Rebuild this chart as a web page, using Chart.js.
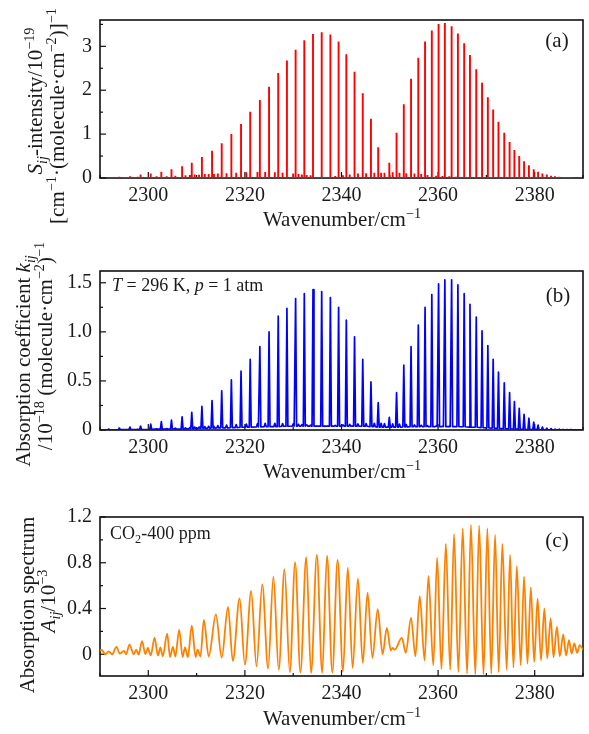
<!DOCTYPE html>
<html lang="en">
<head>
<meta charset="UTF-8" />
<title>CO2 band</title>
<script src="https://cdn.jsdelivr.net/npm/chart.js@4"></script>
<style>
  body { margin: 0; background: #fff; }
  #wrap { position: relative; width: 589px; height: 734px; font-family: "Liberation Serif", serif; color: #1a1a1a; }
  canvas { position: absolute; left: 0; }
  .t { position: absolute; white-space: nowrap; transform: translate(-50%, -50%); font-size: 21px; }
  .l { position: absolute; white-space: nowrap; transform: translateY(-50%); font-size: 18px; }
  .rot { position: absolute; white-space: nowrap; transform: translate(-50%, -50%) rotate(-90deg); font-size: 21px; }
  sup, sub { font-size: 68%; line-height: 0; }
</style>
</head>
<body>
<div id="wrap">
  <canvas id="ca" width="589" height="240" style="top:0"></canvas>
  <canvas id="cb" width="589" height="250" style="top:240px"></canvas>
  <canvas id="cc" width="589" height="244" style="top:490px"></canvas>

  <div class="rot" style="left:35px;top:101px"><i>S<sub>ij</sub></i>-intensity/10<sup>−19</sup></div>
  <div class="rot" style="left:57px;top:116px">[cm<sup>−1</sup>·(molecule·cm<sup>−2</sup>)]<sup>−1</sup></div>
  <div class="t" style="left:342px;top:219px">Wavenumber/cm<sup>−1</sup></div>
  <div class="t" style="left:557px;top:40px">(a)</div>

  <div class="rot" style="left:23px;top:361px">Absorption coefficient <i>k<sub>ij</sub></i></div>
  <div class="rot" style="left:45px;top:346px">/10<sup>−18</sup> (molecule·cm<sup>−2</sup>)<sup>−1</sup></div>
  <div class="t" style="left:342px;top:471px">Wavenumber/cm<sup>−1</sup></div>
  <div class="t" style="left:558px;top:295px">(b)</div>
  <div class="l" style="left:112px;top:285px"><i>T</i> = 296 K, <i>p</i> = 1 atm</div>

  <div class="rot" style="left:27px;top:605px">Absorption spectrum</div>
  <div class="rot" style="left:48px;top:601px"><i>A<sub>ij</sub></i>/10<sup>−3</sup></div>
  <div class="t" style="left:342px;top:718px">Wavenumber/cm<sup>−1</sup></div>
  <div class="t" style="left:557px;top:540px">(c)</div>
  <div class="l" style="left:110px;top:533px">CO<sub>2</sub>-400 ppm</div>
</div>

<script>
// main lines of the band, P branch then R branch (cm-1)
const linePos = [
  2291.8, 2294.0, 2296.2, 2298.4, 2300.5, 2302.7, 2304.8, 2307.0, 2309.0, 2311.1,
  2313.2, 2315.2, 2317.2, 2319.2, 2321.1, 2323.1, 2325.0, 2326.9, 2328.7, 2330.5,
  2332.3, 2334.1, 2335.9, 2337.7, 2339.4, 2341.0, 2342.7, 2344.4, 2346.1, 2347.6,
  2349.9, 2351.4, 2352.9, 2354.4, 2355.9, 2357.3, 2358.7, 2360.1, 2361.4, 2362.8,
  2364.1, 2365.4, 2366.6, 2367.9, 2369.1, 2370.3, 2371.4, 2372.5, 2373.7, 2374.8,
  2375.8, 2376.8, 2377.8, 2378.8, 2379.8, 2380.7, 2381.6, 2382.5, 2383.4, 2384.2,
  2385.1, 2385.9, 2386.7, 2387.5
];
// (a) line intensity, 10^-19
const intensityA = [
  0.02, 0.03, 0.04, 0.08, 0.10, 0.14, 0.20, 0.27, 0.35, 0.48,
  0.62, 0.79, 1.00, 1.23, 1.51, 1.78, 2.08, 2.39, 2.68, 2.92,
  3.14, 3.28, 3.32, 3.27, 3.11, 2.82, 2.42, 1.93, 1.35, 0.70,
  0.35, 1.03, 1.68, 2.26, 2.74, 3.11, 3.36, 3.51, 3.53, 3.46,
  3.29, 3.07, 2.80, 2.48, 2.17, 1.84, 1.56, 1.28, 1.03, 0.82,
  0.64, 0.50, 0.38, 0.29, 0.20, 0.14, 0.10, 0.08, 0.05, 0.04,
  0.03, 0.02, 0.015, 0.01
];
// (b) peak absorption coefficient, 10^-18
const peakB = [
  0.01, 0.02, 0.03, 0.04, 0.06, 0.085, 0.10, 0.135, 0.18, 0.24,
  0.30, 0.40, 0.51, 0.60, 0.72, 0.85, 1.00, 1.16, 1.24, 1.34,
  1.39, 1.43, 1.41, 1.35, 1.25, 1.12, 0.95, 0.72, 0.49, 0.28,
  0.13, 0.38, 0.66, 0.85, 1.07, 1.25, 1.38, 1.49, 1.53, 1.53,
  1.48, 1.39, 1.28, 1.15, 1.01, 0.86, 0.72, 0.59, 0.48, 0.38,
  0.29, 0.22, 0.16, 0.12, 0.08, 0.05, 0.03, 0.02, 0.015, 0.01,
  0.008, 0.005, 0.004, 0.003
];
// (b) level between the peaks
const baseB = [
  0.002, 0.003, 0.004, 0.005, 0.006, 0.008, 0.010, 0.012, 0.015, 0.018,
  0.020, 0.022, 0.025, 0.028, 0.030, 0.032, 0.035, 0.035, 0.038, 0.040,
  0.040, 0.040, 0.040, 0.040, 0.040, 0.040, 0.040, 0.038, 0.035, 0.030,
  0.030, 0.030, 0.032, 0.035, 0.035, 0.035, 0.035, 0.035, 0.035, 0.035,
  0.035, 0.033, 0.030, 0.028, 0.025, 0.022, 0.020, 0.017, 0.015, 0.012,
  0.010, 0.008, 0.006, 0.005, 0.004, 0.003, 0.002, 0.002, 0.001, 0.001,
  0.001, 0.001, 0.001, 0.001
];
// weak (hot band) lines
const weakPos = [
  2297.8, 2301.7, 2303.8, 2305.6, 2307.7, 2308.6, 2309.6, 2310.5, 2311.7, 2312.5,
  2313.6, 2314.4, 2316.2, 2318.2, 2320.3, 2322.6, 2324.2, 2326.2, 2327.8, 2330.0,
  2331.1, 2331.8, 2332.8, 2333.6, 2338.7, 2340.3, 2341.7, 2343.4, 2345.1, 2346.8,
  2348.2, 2348.9, 2350.6, 2352.0, 2353.4, 2355.1, 2356.5, 2357.8, 2359.6, 2360.9,
  2362.3, 2363.7
];
const weakA = [
  0.03, 0.04, 0.04, 0.05, 0.06, 0.07, 0.08, 0.075, 0.09, 0.09,
  0.09, 0.10, 0.11, 0.12, 0.13, 0.135, 0.135, 0.13, 0.12, 0.105,
  0.09, 0.08, 0.07, 0.06, 0.045, 0.06, 0.08, 0.10, 0.11, 0.12,
  0.12, 0.12, 0.13, 0.12, 0.11, 0.10, 0.09, 0.07, 0.05, 0.045,
  0.04, 0.03
];
const weakB = [
  0.008, 0.012, 0.014, 0.018, 0.022, 0.025, 0.030, 0.030, 0.035, 0.038,
  0.040, 0.045, 0.050, 0.055, 0.060, 0.065, 0.068, 0.068, 0.066, 0.062,
  0.058, 0.055, 0.052, 0.050, 0.048, 0.052, 0.058, 0.062, 0.065, 0.068,
  0.068, 0.066, 0.062, 0.060, 0.056, 0.052, 0.048, 0.044, 0.040, 0.038,
  0.036, 0.034
];
// (c) absorption spectrum, 10^-3 : [wavenumber, value] at the turning points
const specC = [
  [2290.0, 0.03], [2290.3, 0.04], [2291.1, 0.0], [2291.8, 0.025], [2292.5, 0.0],
  [2293.4, 0.065], [2294.1, 0.005], [2295.0, 0.03], [2295.4, 0.0], [2296.1, 0.085],
  [2297.0, 0.0], [2297.5, 0.04], [2298.0, -0.003], [2298.7, 0.115], [2299.4, 0.0],
  [2299.9, 0.055], [2300.5, -0.01], [2301.3, 0.145], [2302.0, -0.012], [2302.5, 0.06],
  [2303.0, -0.018], [2303.9, 0.18], [2304.5, -0.024], [2305.1, 0.065], [2305.6, -0.02],
  [2306.4, 0.215], [2307.1, -0.024], [2307.6, 0.06], [2308.2, -0.024], [2309.0, 0.25],
  [2309.8, -0.025], [2310.2, 0.04], [2310.8, -0.02], [2311.5, 0.30], [2312.5, -0.02],
  [2314.0, 0.348], [2315.2, -0.03], [2316.5, 0.415], [2317.5, -0.058], [2318.9, 0.488],
  [2320.0, -0.09], [2321.3, 0.553], [2322.4, -0.105], [2323.6, 0.614], [2324.8, -0.126],
  [2325.9, 0.678], [2327.0, -0.134], [2328.2, 0.743], [2329.3, -0.155], [2330.4, 0.804],
  [2331.5, -0.16], [2332.7, 0.848], [2333.7, -0.164], [2334.9, 0.868], [2336.0, -0.164],
  [2337.0, 0.862], [2338.1, -0.16], [2339.2, 0.825], [2340.3, -0.15], [2341.3, 0.757],
  [2342.3, -0.12], [2343.4, 0.664], [2344.4, -0.076], [2345.4, 0.538], [2346.4, -0.032],
  [2347.5, 0.395], [2348.5, 0.0], [2349.4, 0.231], [2350.2, 0.035], [2350.6, 0.055],
  [2351.0, 0.04], [2352.5, 0.143], [2353.3, 0.012], [2354.4, 0.319], [2355.3, -0.018],
  [2356.2, 0.509], [2357.2, -0.053], [2358.0, 0.684], [2359.0, -0.096], [2359.8, 0.845],
  [2360.7, -0.13], [2361.6, 0.965], [2362.5, -0.134], [2363.3, 1.05], [2364.2, -0.155],
  [2365.1, 1.10], [2366.0, -0.17], [2366.8, 1.13], [2367.7, -0.175], [2368.5, 1.125],
  [2369.4, -0.178], [2370.2, 1.10], [2371.0, -0.17], [2371.8, 1.044], [2372.55, -0.155],
  [2373.3, 0.965], [2374.2, -0.134], [2374.9, 0.868], [2375.6, -0.117], [2376.3, 0.772],
  [2377.1, -0.096], [2377.8, 0.678], [2378.5, -0.082], [2379.2, 0.585], [2379.9, -0.067],
  [2380.6, 0.488], [2381.3, -0.053], [2382.0, 0.40], [2382.6, -0.038], [2383.3, 0.313],
  [2383.9, -0.026], [2384.6, 0.24], [2385.2, -0.018], [2385.9, 0.173], [2386.5, -0.01],
  [2387.1, 0.123], [2387.65, 0.006], [2388.2, 0.094], [2388.8, 0.012], [2389.3, 0.08],
  [2390.0, 0.04]
];

const FONT = "'Liberation Serif', serif";
const onStep = (v, s) => Math.abs(v / s - Math.round(v / s)) < 1e-6;

// box round the plot area + inward ticks
const framePlugin = {
  id: 'frame',
  beforeDatasetsDraw(chart, args, o) {
    const { ctx, chartArea: a, scales: { x, y } } = chart;
    ctx.save();
    ctx.strokeStyle = '#111';
    ctx.lineWidth = 1.2;
    x.ticks.forEach(t => {
      if (!onStep(t.value, o.xMinor)) return;
      const px = x.getPixelForValue(t.value);
      const len = onStep(t.value, o.xMajor) ? 6 : 3;
      ctx.beginPath(); ctx.moveTo(px, a.bottom); ctx.lineTo(px, a.bottom - len); ctx.stroke();
    });
    y.ticks.forEach(t => {
      if (!onStep(t.value, o.yMinor)) return;
      const py = y.getPixelForValue(t.value);
      const len = onStep(t.value, o.yMajor) ? 6 : 3;
      ctx.beginPath(); ctx.moveTo(a.left, py); ctx.lineTo(a.left + len, py); ctx.stroke();
    });
    ctx.lineWidth = 1.6;
    ctx.strokeRect(a.left, a.top, a.right - a.left, a.bottom - a.top);
    ctx.restore();
  }
};

function makePanel(id, datasets, opt) {
  return new Chart(document.getElementById(id), {
    type: 'line',
    data: { datasets },
    plugins: [framePlugin],
    options: {
      responsive: false,
      animation: false,
      layout: { padding: { left: 0, right: 5.3, top: opt.top, bottom: 0 } },
      plugins: {
        legend: { display: false },
        tooltip: { enabled: false },
        frame: { xMinor: 10, xMajor: 20, yMinor: opt.yMinor, yMajor: opt.yMajor }
      },
      elements: { point: { radius: 0 } },
      scales: {
        x: {
          type: 'linear', min: 2290, max: 2390,
          grid: { display: false, drawTicks: false }, border: { display: false },
          ticks: {
            stepSize: 10, autoSkip: false, maxRotation: 0, padding: 6, includeBounds: false,
            color: '#1a1a1a', font: { family: FONT, size: 20 },
            callback: v => onStep(v, 20) ? String(v) : ''
          },
          afterFit: s => { s.height = opt.xh; }
        },
        y: {
          type: 'linear', min: opt.min, max: opt.max,
          grid: { display: false, drawTicks: false }, border: { display: false },
          ticks: {
            stepSize: opt.yMinor, autoSkip: false, padding: 8, includeBounds: false,
            color: '#1a1a1a', font: { family: FONT, size: 20 },
            callback: v => onStep(v, opt.yMajor) ? opt.fmt(v) : ''
          },
          afterFit: s => { s.width = 100; }
        }
      }
    }
  });
}

// (a) sticks
const sticks = [];
linePos.forEach((x, i) => sticks.push({ x, h: intensityA[i] }));
weakPos.forEach((x, i) => sticks.push({ x, h: weakA[i] }));
sticks.sort((p, q) => p.x - q.x);
const stickPts = [];
sticks.forEach(s => stickPts.push({ x: s.x, y: 0 }, { x: s.x, y: s.h }, { x: s.x, y: 0 }));

makePanel('ca', [{
  data: stickPts, borderColor: '#ff0000', borderWidth: 1.9,
  borderJoinStyle: 'bevel', tension: 0
}], {
  top: 18, xh: 62, min: 0, max: 3.6, yMinor: 0.5, yMajor: 1,
  fmt: v => String(Math.round(v))
});

// (b) narrow peaks over a low floor
const peaks = [];
linePos.forEach((x, i) => peaks.push({ x, h: peakB[i], b: baseB[i] }));
weakPos.forEach((x, i) => {
  let k = 0;
  linePos.forEach((p, j) => { if (Math.abs(p - x) < Math.abs(linePos[k] - x)) k = j; });
  if (Math.abs(linePos[k] - x) < 0.35) return;
  peaks.push({ x, h: weakB[i], b: baseB[k] });
});
peaks.sort((p, q) => p.x - q.x);
const kPts = [{ x: 2290, y: 0.002 }];
peaks.forEach(p => kPts.push({ x: p.x - 0.2, y: p.b }, { x: p.x, y: p.h }, { x: p.x + 0.2, y: p.b }));
kPts.push({ x: 2390, y: 0.001 });

makePanel('cb', [{
  data: kPts, borderColor: '#0000ff', borderWidth: 1.7,
  borderJoinStyle: 'round', tension: 0
}], {
  top: 31, xh: 60, min: 0, max: 1.62, yMinor: 0.25, yMajor: 0.5,
  fmt: v => v === 0 ? '0' : v.toFixed(1)
});

// (c)
makePanel('cc', [{
  data: specC.map(([x, y]) => ({ x, y })), borderColor: '#ff8000', borderWidth: 1.8,
  cubicInterpolationMode: 'monotone'
}], {
  top: 27, xh: 58, min: -0.19, max: 1.2, yMinor: 0.2, yMajor: 0.4,
  fmt: v => Math.abs(v) < 1e-9 ? '0' : v.toFixed(1)
});
</script>
</body>
</html>
